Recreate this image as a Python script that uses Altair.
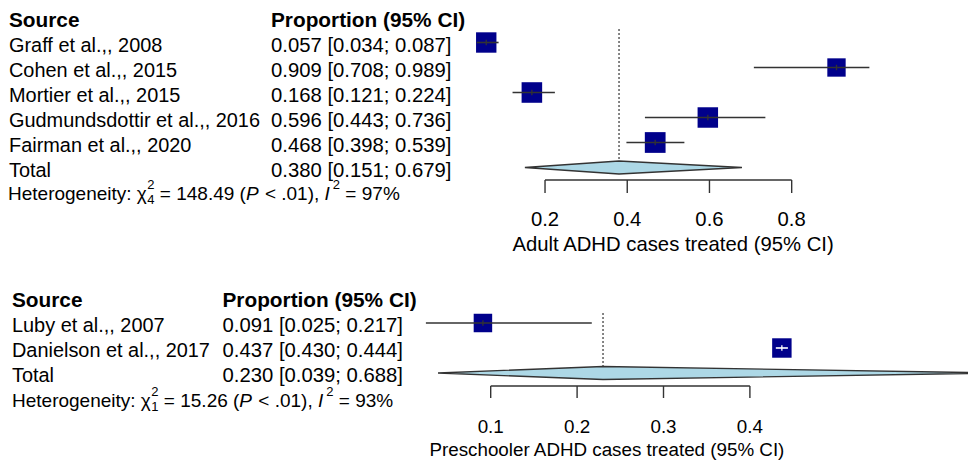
import altair as alt
import pandas as pd

FONT = "Liberation Sans"
TXT1 = 19.9      # study name column
TXT2 = 20.3      # estimate column
BOLD = 20.8      # header size
HET = 19.0       # heterogeneity line size
SUP = 13.0       # super/subscript size
NAVY = "#00008B"
LINE = "#333333"

# ---- Adult ADHD studies ----
adult_source = ["Graff et al.,, 2008", "Cohen et al.,, 2015", "Mortier et al.,, 2015",
                "Gudmundsdottir et al.,, 2016", "Fairman et al.,, 2020"]
adult_est = [0.057, 0.909, 0.168, 0.596, 0.468]
adult_lo = [0.034, 0.708, 0.121, 0.443, 0.398]
adult_hi = [0.087, 0.989, 0.224, 0.736, 0.539]
adult_weight = [20.3, 18.1, 20.5, 20.4, 20.7]
adult_total = [0.380, 0.151, 0.679]
adult_het = ["4", "148.49", "97%"]
adult_ticks = [0.2, 0.4, 0.6, 0.8]
adult_xlab = "Adult ADHD cases treated (95% CI)"

# ---- Preschooler ADHD studies ----
pre_source = ["Luby et al.,, 2007", "Danielson et al.,, 2017"]
pre_est = [0.091, 0.437]
pre_lo = [0.025, 0.430]
pre_hi = [0.217, 0.444]
pre_weight = [47.0, 53.0]
pre_total = [0.230, 0.039, 0.688]
pre_het = ["1", "15.26", "93%"]
pre_ticks = [0.1, 0.2, 0.3, 0.4]
pre_xlab = "Preschooler ADHD cases treated (95% CI)"

# Arial / Liberation Sans advance widths (per 1000 em) for the stats line
ADV = {' ': 278, '(': 333, ')': 333, '%': 889, ',': 278, '.': 278, ':': 278,
       '<': 584, '=': 584, 'H': 722, 'P': 667, 'I': 278, 'e': 556, 't': 278,
       'r': 333, 'o': 556, 'g': 556, 'n': 556, 'i': 222, 'y': 500, 'χ': 500}


def tw(s, size):
    return sum(ADV.get(c, 556) for c in s) * size / 1000.0


def fmt(e, lo, hi):
    return f"{e:.3f} [{lo:.3f}; {hi:.3f}]"


def forest(source, est, lo, hi, weight, total, het, ticks, xlab, L):
    n = len(source)
    total_row = n + 1
    H = L["height"]
    y0 = L["y0"]
    yscale = alt.Scale(domain=[1 - y0 / 25.0, 1 + (H - y0) / 25.0],
                       reverse=True, nice=False, zero=False)
    xscale = alt.Scale(domain=L["xdom"], nice=False, zero=False)

    studies = pd.DataFrame({
        "row": list(range(1, n + 1)),
        "source": source, "est": est, "lo": lo, "hi": hi, "weight": weight,
    })
    studies["ci"] = [fmt(e, a, b) for e, a, b in zip(est, lo, hi)]
    side = [(w - L["sdom"][0]) / (L["sdom"][1] - L["sdom"][0]) *
            (L["srange"][1] - L["srange"][0]) + L["srange"][0] for w in weight]
    px_per_unit = 968.0 / (L["xdom"][1] - L["xdom"][0])
    # CI lines that fit inside their square are drawn in white
    studies["linecol"] = ["white" if (b - a) * px_per_unit < s ** 0.5 else LINE
                          for a, b, s in zip(lo, hi, side)]
    studies["ta"] = studies["row"] - 0.11
    studies["tb"] = studies["row"] + 0.11

    rows = pd.DataFrame({
        "row": list(range(1, n + 2)),
        "source": source + ["Total"],
        "ci": list(studies["ci"]) + [fmt(*total)],
    })
    header = pd.DataFrame({"row": [0], "c1": ["Source"], "c2": ["Proportion (95% CI)"]})

    X = lambda f: alt.X(f, type="quantitative", scale=xscale, axis=None)
    Y = lambda f: alt.Y(f, type="quantitative", scale=yscale, axis=None)

    layers = []
    txt = dict(font=FONT, baseline="alphabetic", dy=9.2, align="left", color="black")
    layers.append(alt.Chart(header).mark_text(fontWeight="bold", fontSize=BOLD, **txt).encode(
        x=alt.value(L["c1"]), y=Y("row"), text="c1:N"))
    layers.append(alt.Chart(header).mark_text(fontWeight="bold", fontSize=BOLD, **txt).encode(
        x=alt.value(L["c2"]), y=Y("row"), text="c2:N"))
    layers.append(alt.Chart(rows).mark_text(fontSize=TXT1, **txt).encode(
        x=alt.value(L["c1"]), y=Y("row"), text="source:N"))
    layers.append(alt.Chart(rows).mark_text(fontSize=TXT2, **txt).encode(
        x=alt.value(L["c2"]), y=Y("row"), text="ci:N"))

    # dotted reference line at the pooled estimate
    ref = pd.DataFrame({"x": [total[0]], "ya": [L["ref_top"]], "yb": [total_row - 0.27]})
    layers.append(alt.Chart(ref).mark_rule(color="#444444", strokeWidth=1.3,
                                           strokeDash=[2, 2]).encode(
        x=X("x"), y=Y("ya"), y2="yb:Q"))

    # pooled diamond
    dh = 0.26
    dia = pd.DataFrame({"x": [total[1], total[0], total[2]],
                        "ya": [total_row, total_row - dh, total_row],
                        "yb": [total_row, total_row + dh, total_row]})
    layers.append(alt.Chart(dia).mark_area(fill="#ADD8E6", stroke="#333333",
                                           strokeWidth=1.3, opacity=1, clip=True).encode(
        x=X("x"), y=Y("ya"), y2="yb:Q"))

    # study squares, CI lines and estimate ticks
    layers.append(alt.Chart(studies).mark_square(filled=True, color=NAVY, opacity=1).encode(
        x=X("est"), y=Y("row"),
        size=alt.Size("weight:Q", scale=alt.Scale(domain=L["sdom"], range=L["srange"]),
                      legend=None)))
    layers.append(alt.Chart(studies).mark_rule(strokeWidth=1.6).encode(
        x=X("lo"), x2="hi:Q", y=Y("row"), color=alt.Color("linecol:N", scale=None)))
    layers.append(alt.Chart(studies).mark_rule(strokeWidth=1.3).encode(
        x=X("est"), y=Y("ta"), y2="tb:Q", color=alt.Color("linecol:N", scale=None)))

    # x axis drawn from the tick values
    tk = pd.DataFrame({"t": ticks, "lab": [f"{t:.1f}" for t in ticks]})
    span = pd.DataFrame({"a": [min(ticks)], "b": [max(ticks)]})
    layers.append(alt.Chart(span).mark_rule(color="#333333", strokeWidth=1.4).encode(
        x=X("a"), x2="b:Q", y=alt.value(L["axis_y"])))
    layers.append(alt.Chart(tk).mark_rule(color="#333333", strokeWidth=1.4).encode(
        x=X("t"), y=alt.value(L["axis_y"]), y2=alt.value(L["tick_end"])))
    layers.append(alt.Chart(tk).mark_text(font=FONT, fontSize=L["axis_fs"], align="center",
                                          baseline="alphabetic", color="black").encode(
        x=X("t"), text="lab:N", y=alt.value(L["label_y"])))
    mid = pd.DataFrame({"m": [(min(lo) + max(hi)) / 2.0], "lab": [xlab]})
    layers.append(alt.Chart(mid).mark_text(font=FONT, fontSize=L["axis_fs"], align="center",
                                           baseline="alphabetic", color="black").encode(
        x=X("m"), text="lab:N", y=alt.value(L["title_y"])))

    # heterogeneity statistics line with chi-square sub/superscripts;
    # spaces are advanced explicitly since SVG drops edge whitespace
    base = L["het_y"]
    sp = tw(" ", HET)
    x = L["het_x"]
    pieces = []

    def put(s, dy=0, fs=HET, style="normal"):
        pieces.append((s, x, base + dy, fs, style))

    put("Heterogeneity: χ")
    x += tw("Heterogeneity: χ", HET) + 1
    put("2", -11, SUP)
    put(het[0], 4, SUP)
    x += tw("2", SUP) + sp
    put("=")
    x += tw("=", HET) + sp
    s = f"{het[1]} ("
    put(s)
    x += tw(s, HET)
    put("P", style="italic")
    x += tw("P", HET) + sp + 1
    put("<")
    x += tw("<", HET) + sp
    s = ".01),"
    put(s)
    x += tw(s, HET) + sp
    put("I", style="italic")
    x += tw("I", HET) + 3
    put("2", -11, SUP)
    x += tw("2", SUP) + sp
    put("=")
    x += tw("=", HET) + sp
    put(het[2])

    one = pd.DataFrame({"k": [0]})
    for s, px, py, fs, style in pieces:
        layers.append(alt.Chart(one).mark_text(
            text=s, font=FONT, fontSize=fs, fontStyle=style, align="left",
            baseline="alphabetic", color="black").encode(
            x=alt.value(px), y=alt.value(py)))

    return alt.layer(*layers).properties(width=968, height=H)


adult_layout = dict(height=270, y0=42.5, xdom=[-1.1258, 1.2289], c1=9, c2=271,
                    sdom=[15, 21], srange=[225, 441], ref_top=0.46,
                    axis_y=180, tick_end=193, label_y=226, title_y=250.5, axis_fs=20.3,
                    het_x=8, het_y=200)
pre_layout = dict(height=193, y0=53, xdom=[-0.46794, 0.65243], c1=12, c2=222.5,
                  sdom=[40, 60], srange=[300, 420], ref_top=0.6,
                  axis_y=116, tick_end=128, label_y=163, title_y=185.5, axis_fs=18.8,
                  het_x=12, het_y=136.5)

top = forest(adult_source, adult_est, adult_lo, adult_hi, adult_weight,
             adult_total, adult_het, adult_ticks, adult_xlab, adult_layout)
bottom = forest(pre_source, pre_est, pre_lo, pre_hi, pre_weight,
                pre_total, pre_het, pre_ticks, pre_xlab, pre_layout)

chart = (
    alt.vconcat(top, bottom, spacing=0, bounds="flush", padding=0)
    .resolve_scale(x="independent", y="independent", size="independent")
    .configure_view(stroke=None)
)

chart.save("out.html", embed_options={"renderer": "svg", "actions": False})
